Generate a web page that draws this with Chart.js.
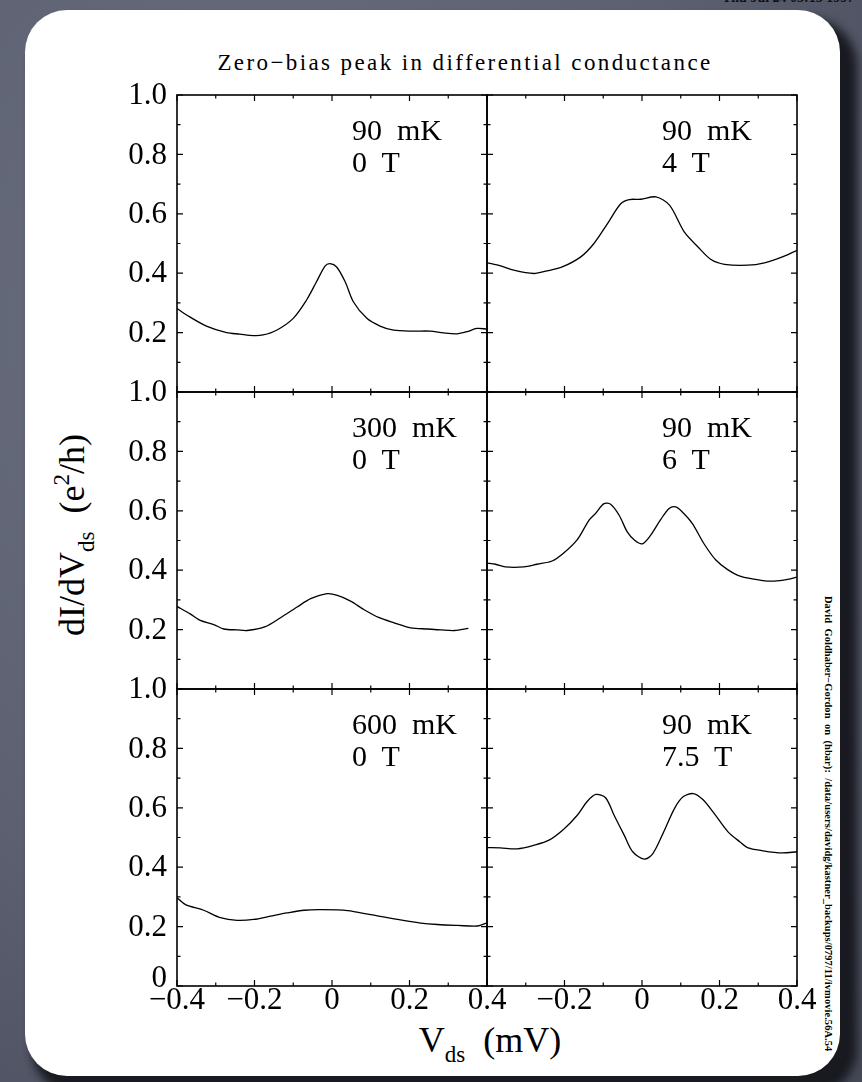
<!DOCTYPE html>
<html>
<head>
<meta charset="utf-8">
<script src="https://cdn.jsdelivr.net/npm/chart.js@4/dist/chart.umd.min.js"></script>
<style>
  html, body { margin: 0; padding: 0; }
  body {
    width: 862px; height: 1082px; position: relative; overflow: hidden;
    background: radial-gradient(ellipse at 30% 30%, #6c7182 0%, #5c6071 55%, #454957 100%);
    font-family: "Liberation Serif", "DejaVu Serif", serif;
    color: #000;
  }
  #card {
    position: absolute; left: 25px; top: 10px; width: 815px; height: 1066px;
    background: #fff; border-radius: 42px;
    box-shadow: 12px 14px 10px 5px rgba(22, 23, 30, 0.95);
  }
  .abs { position: absolute; white-space: pre; }
  canvas { position: absolute; }
  #stamp { left: 722px; top: -9px; font: bold 14px/14px "Liberation Serif", serif; color: #111; }
  #title { left: 0; width: 930px; text-align: center; top: 51px; font-size: 23px; line-height: 23px; letter-spacing: 2.4px; }
  .note { font-size: 30px; line-height: 32px; }
  .axt { font-size: 36px; line-height: 40px; }
  .axt sub { font-size: 23px; vertical-align: -10px; line-height: 0; }
  .axt sup { font-size: 23px; vertical-align: 15px; line-height: 0; }
  #ytitle { left: 72px; top: 535px; transform: translate(-50%, -50%) rotate(-90deg); }
  #xtitle { left: 490px; top: 1040px; transform: translate(-50%, -50%); }
  #path {
    left: 823px; top: 596px; writing-mode: vertical-rl;
    font: bold 10.4px "Liberation Serif", serif; letter-spacing: 0.1px;
  }
</style>
</head>
<body>
<div class="abs" id="stamp">Thu Jul 24 03:15 1997</div>
<div id="card"></div>
<div class="abs" id="title">Zero&minus;bias peak in differential conductance</div>
<div class="abs axt" id="ytitle">dI/dV<sub>ds</sub>  (e<sup>2</sup>/h)</div>
<div class="abs axt" id="xtitle">V<sub>ds</sub>  (mV)</div>
<div class="abs" id="path">David  Goldhaber&minus;Gordon  on  (hbar):  /data/users/davidg/kastner_backups/0797/11/ivmovie.56A.54</div>

<script>
// bias voltage (mV) and conductance (e^2/h)
const v90mK0T = [-0.4,-0.367,-0.324,-0.272,-0.238,-0.203,-0.178,-0.143,-0.100,-0.066,-0.040,-0.018,-0.005,0.012,0.034,0.055,0.090,0.124,0.159,0.210,0.253,0.288,0.322,0.348,0.374,0.400];
const g90mK0T = [0.281,0.253,0.222,0.200,0.195,0.190,0.192,0.208,0.248,0.309,0.371,0.424,0.432,0.421,0.371,0.304,0.248,0.222,0.208,0.205,0.205,0.199,0.196,0.203,0.214,0.212];

const v90mK4T = [-0.4,-0.365,-0.331,-0.279,-0.245,-0.206,-0.158,-0.124,-0.089,-0.055,-0.033,-0.003,0.036,0.071,0.109,0.144,0.178,0.213,0.273,0.316,0.359,0.400];
const g90mK4T = [0.435,0.425,0.410,0.399,0.408,0.421,0.455,0.500,0.567,0.634,0.648,0.649,0.657,0.629,0.539,0.489,0.446,0.430,0.427,0.435,0.453,0.477];

const v300mK0T = [-0.4,-0.366,-0.340,-0.305,-0.279,-0.245,-0.219,-0.172,-0.133,-0.090,-0.055,-0.012,0.014,0.048,0.083,0.122,0.160,0.203,0.247,0.281,0.316,0.352];
const g300mK0T = [0.278,0.253,0.231,0.217,0.202,0.199,0.197,0.210,0.240,0.276,0.304,0.321,0.315,0.296,0.267,0.240,0.223,0.206,0.202,0.199,0.197,0.204];

const v90mK6T = [-0.4,-0.378,-0.353,-0.305,-0.271,-0.232,-0.202,-0.167,-0.137,-0.120,-0.098,-0.081,-0.059,-0.038,-0.019,0.001,0.022,0.048,0.070,0.087,0.104,0.130,0.160,0.190,0.221,0.255,0.307,0.341,0.376,0.400];
const g90mK6T = [0.424,0.420,0.411,0.411,0.420,0.431,0.458,0.503,0.568,0.591,0.624,0.622,0.585,0.529,0.501,0.489,0.517,0.570,0.608,0.613,0.596,0.557,0.489,0.435,0.402,0.379,0.366,0.363,0.369,0.377];

const v600mK0T = [-0.4,-0.378,-0.331,-0.288,-0.245,-0.202,-0.159,-0.116,-0.072,-0.029,0.040,0.100,0.169,0.229,0.272,0.324,0.376,0.400];
const g600mK0T = [0.297,0.274,0.255,0.230,0.221,0.224,0.235,0.246,0.255,0.257,0.254,0.240,0.224,0.212,0.207,0.204,0.202,0.213];

const v90mK75T = [-0.4,-0.366,-0.322,-0.279,-0.240,-0.202,-0.167,-0.141,-0.119,-0.094,-0.072,-0.046,-0.024,0.006,0.028,0.054,0.084,0.106,0.132,0.157,0.188,0.222,0.253,0.274,0.309,0.361,0.400];
const g90mK75T = [0.466,0.465,0.462,0.474,0.491,0.528,0.575,0.622,0.645,0.634,0.575,0.508,0.452,0.427,0.446,0.513,0.598,0.637,0.648,0.628,0.578,0.519,0.485,0.465,0.456,0.448,0.452];

const temps  = ['90  mK', '90  mK', '300  mK', '90  mK', '600  mK', '90  mK'];
const fields = ['0  T', '4  T', '0  T', '6  T', '0  T', '7.5  T'];

// tick labels
const yTickVals = [0.2, 0.4, 0.6, 0.8, 1.0];
const yTickText = ['0.2', '0.4', '0.6', '0.8', '1.0'];
const xTickVals = [-0.4, -0.2, 0, 0.2, 0.4];
const xTickText = ['\u22120.4', '\u22120.2', '0', '0.2', '0.4'];

// panel grid (px)
const colX = [177, 487];
const rowY = [95, 392, 689];
const PW = 310, PH = 297;
const PAD = { left: 90, right: 20, top: 20, bottom: 60 };

const series = [
  [v90mK0T, g90mK0T], [v90mK4T, g90mK4T],
  [v300mK0T, g300mK0T], [v90mK6T, g90mK6T],
  [v600mK0T, g600mK0T], [v90mK75T, g90mK75T]
];

const frameTicks = {
  id: 'frameTicks',
  afterDraw(chart, args, o) {
    const { ctx, chartArea: a, scales: { x, y } } = chart;
    ctx.save();
    ctx.strokeStyle = '#000';
    ctx.lineWidth = 1.6;
    ctx.strokeRect(a.left, a.top, a.right - a.left, a.bottom - a.top);
    ctx.lineWidth = 1.2;
    ctx.beginPath();
    for (let i = -4; i <= 4; i++) {
      const px = x.getPixelForValue(i / 10);
      const len = i % 2 === 0 ? 6 : 3.5;
      ctx.moveTo(px, a.top); ctx.lineTo(px, a.top + len);
      ctx.moveTo(px, a.bottom); ctx.lineTo(px, a.bottom - len);
    }
    for (let i = 0; i <= 10; i++) {
      const py = y.getPixelForValue(i / 10);
      const len = i % 2 === 0 ? 6 : 3.5;
      ctx.moveTo(a.left, py); ctx.lineTo(a.left + len, py);
      ctx.moveTo(a.right, py); ctx.lineTo(a.right - len, py);
    }
    ctx.stroke();

    ctx.fillStyle = '#000';
    ctx.font = '31px "Liberation Serif", serif';
    if (o.yLabels) {
      ctx.textAlign = 'right';
      ctx.textBaseline = 'middle';
      yTickVals.forEach((v, i) => ctx.fillText(yTickText[i], a.left - 10, y.getPixelForValue(v) + 1));
      if (o.zero) {
        ctx.textBaseline = 'alphabetic';
        ctx.fillText('0', a.left - 10, y.getPixelForValue(0) + 1);
      }
    }
    if (o.xLabels) {
      ctx.textAlign = 'center';
      ctx.textBaseline = 'top';
      xTickVals.forEach((v, i) => {
        if (o.skipFirst && i === 0) return;
        ctx.fillText(xTickText[i], x.getPixelForValue(v), a.bottom - 1);
      });
    }
    ctx.restore();
  }
};

series.forEach(([vs, gs], k) => {
  const col = k % 2, row = Math.floor(k / 2);
  const cv = document.createElement('canvas');
  cv.width = PW + PAD.left + PAD.right;
  cv.height = PH + PAD.top + PAD.bottom;
  cv.style.left = (colX[col] - PAD.left) + 'px';
  cv.style.top = (rowY[row] - PAD.top) + 'px';
  document.body.appendChild(cv);

  new Chart(cv, {
    type: 'line',
    data: {
      datasets: [{
        data: vs.map((v, i) => ({ x: v, y: gs[i] })),
        borderColor: '#000',
        borderWidth: 1.3,
        pointRadius: 0,
        tension: 0.3,
        fill: false
      }]
    },
    options: {
      responsive: false,
      animation: false,
      events: [],
      layout: { padding: PAD },
      plugins: {
        legend: { display: false },
        tooltip: { enabled: false },
        frameTicks: {
          yLabels: col === 0,
          zero: col === 0 && row === 2,
          xLabels: row === 2,
          skipFirst: col === 1
        }
      },
      scales: {
        x: { type: 'linear', min: -0.4, max: 0.4, display: false },
        y: { type: 'linear', min: 0, max: 1, display: false }
      }
    },
    plugins: [frameTicks]
  });

  const note = document.createElement('div');
  note.className = 'abs note';
  note.style.left = (colX[col] + 175) + 'px';
  note.style.top = (rowY[row] + 19) + 'px';
  note.textContent = temps[k] + '\n' + fields[k];
  document.body.appendChild(note);
});
</script>
</body>
</html>
